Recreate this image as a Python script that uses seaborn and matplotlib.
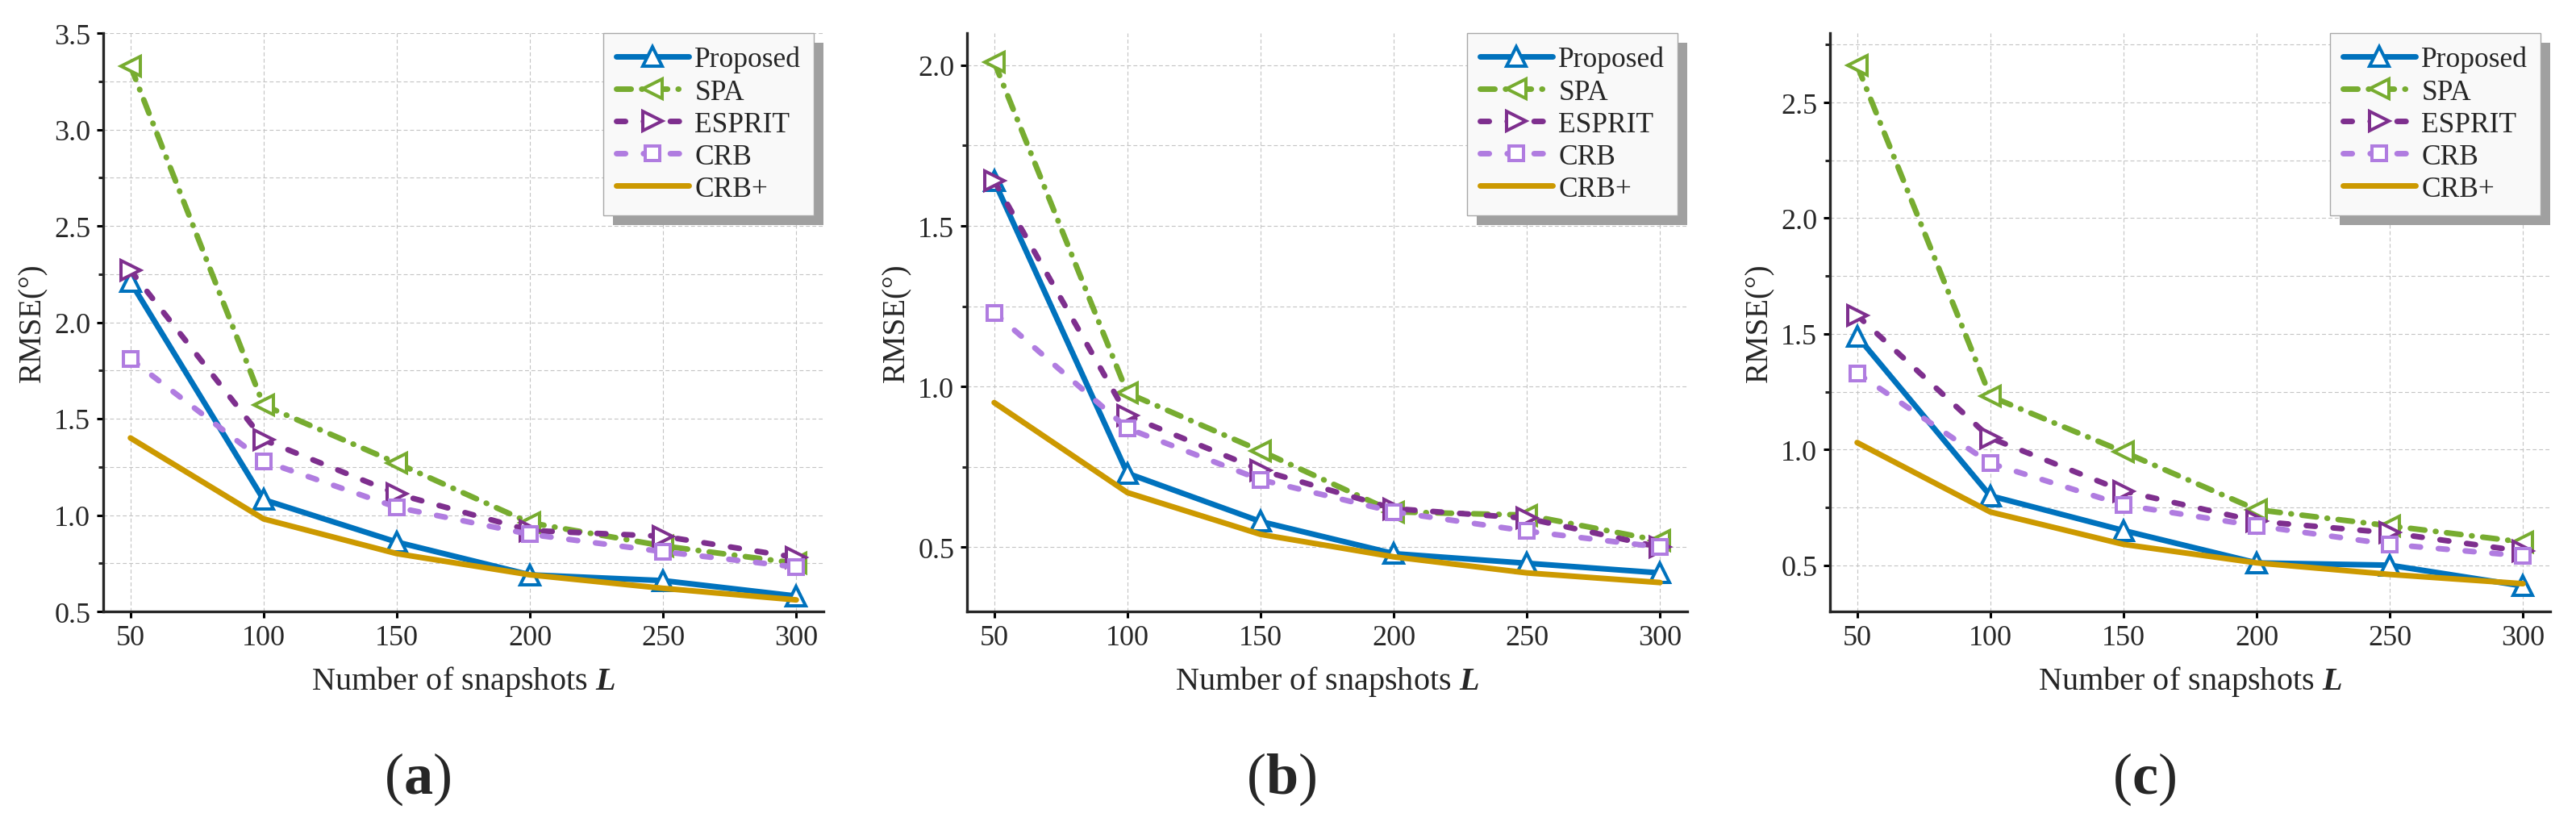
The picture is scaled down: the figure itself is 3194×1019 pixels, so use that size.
import numpy as np
import matplotlib
matplotlib.use("Agg")
import matplotlib.pyplot as plt
import seaborn as sns
from matplotlib.patches import Rectangle
from matplotlib.transforms import IdentityTransform
from matplotlib.ticker import MultipleLocator, FormatStrFormatter

# data
snapshots = [50, 100, 150, 200, 250, 300]
methods = ["Proposed", "SPA", "ESPRIT", "CRB", "CRB+"]

proposed_a = [2.21, 1.08, 0.86, 0.69, 0.66, 0.58]
spa_a = [3.33, 1.57, 1.27, 0.96, 0.84, 0.75]
esprit_a = [2.27, 1.39, 1.11, 0.92, 0.89, 0.78]
crb_a = [1.81, 1.28, 1.04, 0.90, 0.81, 0.73]
crbp_a = [1.40, 0.98, 0.80, 0.69, 0.62, 0.56]

proposed_b = [1.64, 0.73, 0.58, 0.48, 0.45, 0.42]
spa_b = [2.01, 0.98, 0.80, 0.61, 0.60, 0.52]
esprit_b = [1.64, 0.91, 0.74, 0.62, 0.59, 0.50]
crb_b = [1.23, 0.87, 0.71, 0.61, 0.55, 0.50]
crbp_b = [0.95, 0.67, 0.54, 0.47, 0.42, 0.39]

proposed_c = [1.49, 0.80, 0.65, 0.51, 0.50, 0.41]
spa_c = [2.66, 1.23, 0.99, 0.74, 0.67, 0.60]
esprit_c = [1.58, 1.05, 0.82, 0.69, 0.64, 0.56]
crb_c = [1.33, 0.94, 0.76, 0.67, 0.59, 0.54]
crbp_c = [1.03, 0.73, 0.59, 0.51, 0.46, 0.42]

panels = [
    ("a", [proposed_a, spa_a, esprit_a, crb_a, crbp_a], (0.5, 3.5)),
    ("b", [proposed_b, spa_b, esprit_b, crb_b, crbp_b], (0.30, 2.10)),
    ("c", [proposed_c, spa_c, esprit_c, crb_c, crbp_c], (0.30, 2.80)),
]

colors = ["#0072BD", "#77AC30", "#7E2F8E", "#B07CE0", "#CC9900"]
markers = ["^", "<", ">", "s", None]
msizes = [17.5, 17.5, 17.5, 12.5, 0]
lstyles = ["-", (0, (13, 9.5, 0.5, 9.5)), (0, (8, 16)), (0, (8, 16)), "-"]

sns.set_style("ticks")
plt.rcParams["font.family"] = ["Liberation Serif", "DejaVu Serif"]
plt.rcParams["mathtext.fontset"] = "custom"
plt.rcParams["mathtext.rm"] = "Liberation Serif"
plt.rcParams["mathtext.bf"] = "Liberation Serif:bold"
plt.rcParams["mathtext.bfit"] = "Liberation Serif:italic:bold"
plt.rcParams["lines.scale_dashes"] = False

fig = plt.figure(figsize=(31.94, 10.20), dpi=100)
lefts = [128, 1199, 2269]
W, H = 3194, 1020

axes = []
for (tag, series, ylim), left in zip(panels, lefts):
    ax = fig.add_axes([left / W, 1 - 759 / H, 893 / W, 717 / H])
    axes.append(ax)
    for name, vals, col, mk, ms, ls in zip(methods, series, colors, markers, msizes, lstyles):
        kw = dict(marker=mk, markersize=ms, markerfacecolor="white",
                  markeredgecolor=col, markeredgewidth=2.9) if mk else {}
        sns.lineplot(x=snapshots, y=vals, ax=ax, color=col, linewidth=5,
                     linestyle=ls, label=name, dash_capstyle="round",
                     solid_capstyle="round", solid_joinstyle="round",
                     dash_joinstyle="round", zorder=3, **kw)

    ax.set_xlim(39.8, 310.2)
    ax.set_ylim(*ylim)
    ax.set_xticks(snapshots)
    ax.yaxis.set_major_locator(MultipleLocator(0.5))
    ax.yaxis.set_minor_locator(MultipleLocator(0.25))
    ax.yaxis.set_major_formatter(FormatStrFormatter("%.1f"))
    ax.grid(True, which="major", axis="x", color="#c4c4c4", linestyle=(0, (3.5, 2.2)), linewidth=0.8)
    ax.grid(True, which="both", axis="y", color="#c4c4c4", linestyle=(0, (3.5, 2.2)), linewidth=0.8)
    ax.set_axisbelow(True)

    sns.despine(ax=ax)
    for s in ["left", "bottom"]:
        ax.spines[s].set_linewidth(2.4)
    ax.tick_params(axis="both", which="major", direction="out", length=5.8, width=2.2,
                   labelsize=26, pad=5.5, color="black")
    ax.tick_params(axis="y", which="minor", direction="out", length=4.3, width=2.2)

    ax.set_xlabel(r"Number of snapshots $\mathbfit{L}$", fontsize=29, labelpad=12)
    ax.set_ylabel("RMSE(°)", fontsize=28, labelpad=6)
    ax.text(0.436, -0.289, r"($\mathbf{%s}$)" % tag, transform=ax.transAxes,
            ha="center", va="center", fontsize=52)

    leg = ax.legend(loc="upper right", bbox_to_anchor=(1 - 12 / 893, 1.0),
                    borderaxespad=0, fontsize=25.5, handlelength=2.55,
                    handletextpad=0.2, borderpad=0.45, labelspacing=0.2,
                    fancybox=False, framealpha=1, edgecolor="#a8a8a8",
                    facecolor="#f9f9f9")
    leg.get_frame().set_linewidth(1.0)
    leg.set_zorder(5)

# drop shadow behind each legend
fig.canvas.draw()
for ax in axes:
    leg = ax.get_legend()
    bb = leg.get_frame().get_window_extent()
    shadow = Rectangle((bb.x0 + 12, bb.y0 - 12), bb.width, bb.height,
                       transform=IdentityTransform(), facecolor="#a0a0a0",
                       edgecolor="none", zorder=4.9, clip_on=False)
    ax.add_artist(shadow)

fig.savefig("out.png", dpi=100)
